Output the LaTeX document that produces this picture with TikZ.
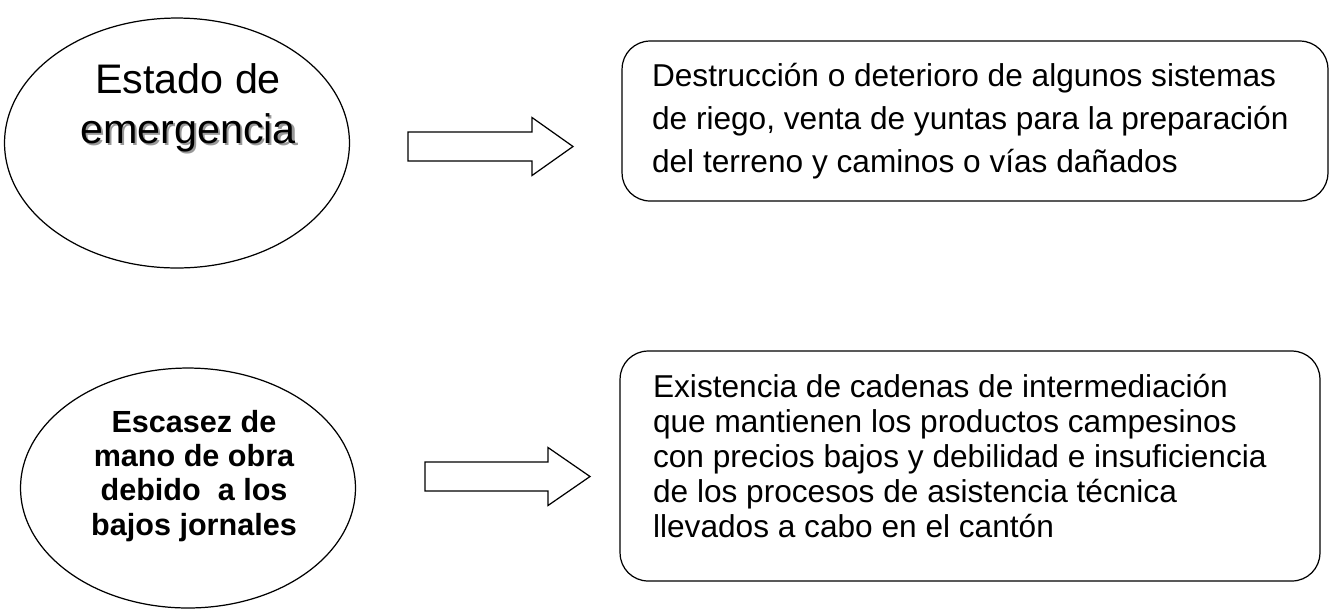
\documentclass[tikz,border=0pt]{standalone}
\usepackage{fontspec}
\setmainfont{Liberation Sans}
\usepackage{tikz}
\usetikzlibrary{shapes.geometric}

\newcommand{\shadowword}[1]{\makebox[0pt][l]{\kern0.045cm\raisebox{-0.045cm}{\textcolor{black!40}{#1}}}#1}

\begin{document}
\begin{tikzpicture}[x=0.02cm,y=-0.02cm,line width=0.7pt,
    cause/.style={ellipse,draw},
    effect/.style={rectangle,draw,rounded corners=0.56cm},
    bigarrow/.style={draw,fill=white,line join=miter}]

    \useasboundingbox (0,0) rectangle (1331,610);

    % Causes (ellipses) %
    \node[cause,minimum width=6.9cm,minimum height=5cm] (e1) at (177,143) {};
    \node[cause,minimum width=6.7cm,minimum height=4.8cm] (e2) at (188,488) {};

    \node[align=center,font=\fontsize{23.5pt}{28.5pt}\selectfont] (e1txt) at (188,109)
        {Estado de\\ \shadowword{emergencia}};
    \node[align=center,font=\fontsize{17.4pt}{19.4pt}\selectfont\bfseries] (e2txt) at (194,476)
        {Escasez de\\ mano de obra\\ debido\ \ a los\\ bajos jornales};

    % Effects (rounded boxes) %
    \node[effect,minimum width=14.12cm,minimum height=3.2cm] (b1) at (975,121) {};
    \node[effect,minimum width=14cm,minimum height=4.6cm] (b2) at (970,466) {};

    \node[align=left,anchor=west,inner sep=0pt,font=\fontsize{18pt}{24.4pt}\selectfont] (b1txt)
        at ([xshift=0.6cm]b1.west)
        {Destrucción o deterioro de algunos sistemas\\ de riego, venta de yuntas para la preparación\\ del terreno y caminos o vías dañados};
    \node[align=left,anchor=west,inner sep=0pt,font=\fontsize{18pt}{19.9pt}\selectfont] (b2txt)
        at ([xshift=0.66cm,yshift=0.2cm]b2.west)
        {Existencia de cadenas de intermediación\\ que mantienen los productos campesinos\\ con precios bajos y debilidad e insuficiencia\\ de los procesos de asistencia técnica\\ llevados a cabo en el cantón};

    % Block arrows %
    \coordinate (a1) at (408,146.5);
    \coordinate (a2) at (425,476.5);
    \draw[bigarrow] (a1) ++(0,-14.5) -- ++(124,0) -- ++(0,-14.5) -- ++(41,29)
        -- ++(-41,29) -- ++(0,-14.5) -- ++(-124,0) -- cycle;
    \draw[bigarrow] (a2) ++(0,-14.5) -- ++(123,0) -- ++(0,-14.5) -- ++(42,29)
        -- ++(-42,29) -- ++(0,-14.5) -- ++(-123,0) -- cycle;

\end{tikzpicture}
\end{document}
